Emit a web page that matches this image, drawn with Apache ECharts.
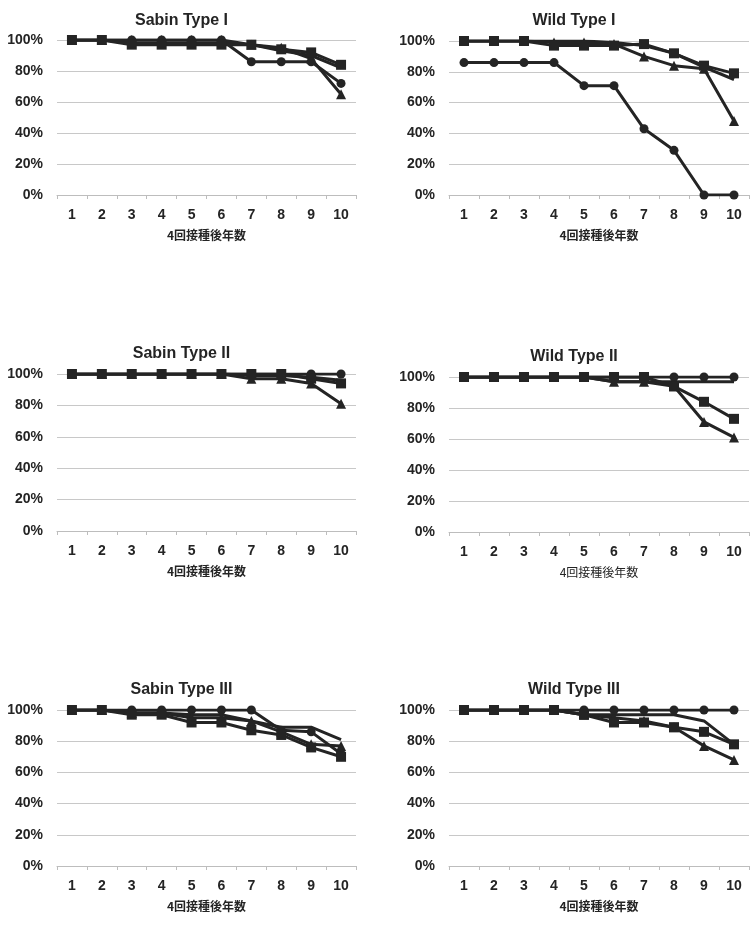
<!DOCTYPE html>
<html>
<head>
<meta charset="utf-8">
<script src="https://cdn.jsdelivr.net/npm/echarts@6/dist/echarts.min.js"></script>
<style>
  html, body { margin: 0; padding: 0; background: #fff; }
  #chart { width: 756px; height: 945px; }
</style>
</head>
<body>
<div id="chart"></div>
<script>
// Données (en %)
const years = ['1', '2', '3', '4', '5', '6', '7', '8', '9', '10'];
const panelTitles = ['Sabin Type I', 'Wild Type I', 'Sabin Type II', 'Wild Type II', 'Sabin Type III', 'Wild Type III'];
const xAxisName = '4回接種後年数';

const sabin1Line     = [100, 100, 98, 98, 98, 98, 97, 93, 90, 82];
const sabin1Triangle = [100, 100, 100, 100, 100, 100, 97, 95, 88, 65];
const sabin1Circle   = [100, 100, 100, 100, 100, 100, 86, 86, 86, 72];
const sabin1Square   = [100, 100, 97, 97, 97, 97, 97, 94, 92, 84];

const wild1Line     = [100, 100, 100, 100, 100, 99, 97, 92, 83, 75];
const wild1Triangle = [100, 100, 100, 99, 99, 98, 90, 84, 82, 48];
const wild1Circle   = [86, 86, 86, 86, 71, 71, 43, 29, 0, 0];
const wild1Square   = [100, 100, 100, 97, 97, 97, 98, 92, 84, 79];

const sabin2Line     = [100, 100, 100, 100, 100, 100, 99, 99, 98, 96];
const sabin2Triangle = [100, 100, 100, 100, 100, 100, 97, 97, 94, 81];
const sabin2Circle   = [100, 100, 100, 100, 100, 100, 100, 100, 100, 100];
const sabin2Square   = [100, 100, 100, 100, 100, 100, 100, 100, 97, 94];

const wild2Line     = [100, 100, 100, 100, 100, 97, 97, 97, 97, 97];
const wild2Triangle = [100, 100, 100, 100, 100, 97, 97, 94, 71, 61];
const wild2Circle   = [100, 100, 100, 100, 100, 100, 100, 100, 100, 100];
const wild2Square   = [100, 100, 100, 100, 100, 100, 100, 94, 84, 73];

const sabin3Line     = [100, 100, 98, 98, 97, 97, 93, 89, 89, 81];
const sabin3Triangle = [100, 100, 98, 98, 95, 95, 93, 86, 78, 77];
const sabin3Circle   = [100, 100, 100, 100, 100, 100, 100, 87, 86, 72];
const sabin3Square   = [100, 100, 97, 97, 92, 92, 87, 84, 76, 70];

const wild3Line     = [100, 100, 100, 100, 97, 97, 97, 97, 93, 78];
const wild3Triangle = [100, 100, 100, 100, 97, 95, 93, 89, 77, 68];
const wild3Circle   = [100, 100, 100, 100, 100, 100, 100, 100, 100, 100];
const wild3Square   = [100, 100, 100, 100, 97, 92, 92, 89, 86, 78];

const panels = [
    [sabin1Line, sabin1Triangle, sabin1Circle, sabin1Square],
    [wild1Line, wild1Triangle, wild1Circle, wild1Square],
    [sabin2Line, sabin2Triangle, sabin2Circle, sabin2Square],
    [wild2Line, wild2Triangle, wild2Circle, wild2Square],
    [sabin3Line, sabin3Triangle, sabin3Circle, sabin3Square],
    [wild3Line, wild3Triangle, wild3Circle, wild3Square]
];

// Positions des 6 grilles (px)
const grids = [
    { left: 57,  top: 40,  width: 299, height: 155 },
    { left: 449, top: 41,  width: 300, height: 154 },
    { left: 57,  top: 374, width: 299, height: 157 },
    { left: 449, top: 377, width: 300, height: 155 },
    { left: 57,  top: 710, width: 299, height: 156 },
    { left: 449, top: 710, width: 300, height: 156 }
];
const titleTops = [8, 8, 341, 344, 677, 677];

const ink = '#242424';
const font = '"Liberation Sans", Arial, sans-serif';
const markers = [
    { symbol: 'none', size: 0 },
    { symbol: 'triangle', size: 10 },
    { symbol: 'circle', size: 9 },
    { symbol: 'rect', size: 10 }
];

const chart = echarts.init(document.getElementById('chart'));

const option = {
    backgroundColor: '#fff',
    animation: false,
    title: panelTitles.map((t, i) => ({
        text: t,
        left: grids[i].left + grids[i].width / 2 - 30,
        top: titleTops[i],
        textAlign: 'center',
        textStyle: { fontFamily: font, fontSize: 16, fontWeight: 'bold', color: ink }
    })),
    grid: grids,
    xAxis: grids.map((g, i) => ({
        type: 'category',
        gridIndex: i,
        data: years,
        boundaryGap: true,
        name: xAxisName,
        nameLocation: 'middle',
        nameGap: 34,
        nameTextStyle: {
            fontFamily: '"Noto Sans CJK JP", sans-serif',
            fontSize: 12,
            fontWeight: i === 3 ? 'normal' : 'bold',
            color: ink
        },
        axisLine: { lineStyle: { color: '#bdbdbd', width: 1 } },
        axisTick: { show: true, length: 4, lineStyle: { color: '#bdbdbd' } },
        axisLabel: { fontFamily: font, fontSize: 14, fontWeight: 'bold', color: ink, margin: 13 },
        splitLine: { show: false }
    })),
    yAxis: grids.map((g, i) => ({
        type: 'value',
        gridIndex: i,
        min: 0,
        max: 100,
        interval: 20,
        axisLine: { show: false },
        axisTick: { show: false },
        axisLabel: {
            formatter: '{value}%',
            fontFamily: font, fontSize: 14, fontWeight: 'bold', color: ink, margin: 14
        },
        splitLine: { lineStyle: { color: '#c8c8c8', width: 1 } }
    })),
    series: []
};

panels.forEach((panel, i) => {
    panel.forEach((values, k) => {
        option.series.push({
            type: 'line',
            xAxisIndex: i,
            yAxisIndex: i,
            data: values,
            symbol: markers[k].symbol,
            symbolSize: markers[k].size,
            showSymbol: markers[k].symbol !== 'none',
            lineStyle: { color: ink, width: 3 },
            itemStyle: { color: ink, borderColor: ink, borderWidth: 0 },
            z: 2 + k
        });
    });
});

chart.setOption(option);
</script>
</body>
</html>
